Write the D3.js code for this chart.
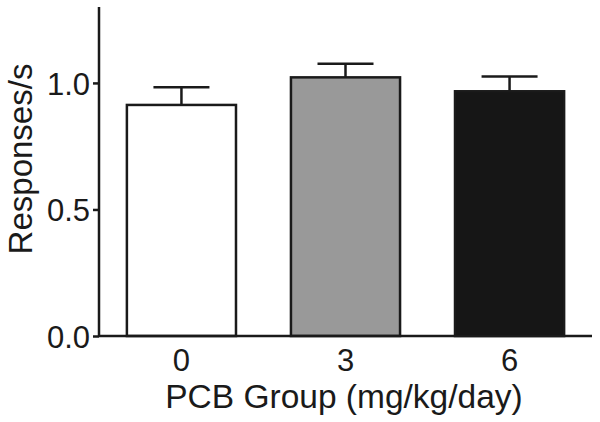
<!DOCTYPE html>
<html><head><meta charset="utf-8">
<script src="https://cdn.jsdelivr.net/npm/d3@7"></script>
<style>body{margin:0;background:#fff}svg{display:block}text{font-family:"Liberation Sans",Arial,sans-serif;fill:#1a1a1a}</style>
</head><body>
<svg id="c" width="600" height="422"></svg>
<script>
const groups = ["0", "3", "6"];
const means = [0.913, 1.022, 0.967];
const errors = [0.070, 0.054, 0.058];
const fills = ["#ffffff", "#999999", "#161616"];
const yTicks = [0.0, 0.5, 1.0];
const xTitle = "PCB Group (mg/kg/day)";
const yTitle = "Responses/s";

const svg = d3.select("#c");
const x0 = 99, x1 = 592, yb = 336, yt = 7;
const x = d3.scaleBand().domain(groups).range([x0, x1]).paddingInner(0.335).paddingOuter(0.17);
const y = d3.scaleLinear().domain([0, 1.3]).range([yb, yt]);
const ink = "#1a1a1a";
const ff = '"Liberation Sans",Arial,sans-serif';

const data = groups.map((g, i) => ({g, m: means[i], e: errors[i], f: fills[i]}));

// error bars (upper only)
const eb = svg.append("g").attr("stroke", ink).attr("stroke-width", 2.5);
eb.selectAll("line.v").data(data).join("line")
  .attr("x1", d => x(d.g) + x.bandwidth()/2).attr("x2", d => x(d.g) + x.bandwidth()/2)
  .attr("y1", d => y(d.m)).attr("y2", d => y(d.m + d.e));
eb.selectAll("line.c").data(data).join("line")
  .attr("x1", d => x(d.g) + x.bandwidth()/2 - 28).attr("x2", d => x(d.g) + x.bandwidth()/2 + 28)
  .attr("y1", d => y(d.m + d.e)).attr("y2", d => y(d.m + d.e));

// bars
svg.append("g").selectAll("rect").data(data).join("rect")
  .attr("x", d => x(d.g)).attr("width", x.bandwidth())
  .attr("y", d => y(d.m)).attr("height", d => y(0) - y(d.m))
  .attr("fill", d => d.f).attr("stroke", ink).attr("stroke-width", 2.5);

// y axis
const ya = svg.append("g").attr("transform", `translate(${x0},0)`)
  .call(d3.axisLeft(y).tickValues(yTicks).tickFormat(d3.format(".1f")).tickSize(6).tickPadding(3));
ya.select(".domain").attr("stroke", ink).attr("stroke-width", 2.5).attr("d", `M0,${yt}V${yb}`);
ya.selectAll(".tick line").attr("stroke", ink).attr("stroke-width", 2.5);
ya.selectAll(".tick text").attr("font-size", 31).attr("fill", ink).attr("dy", "0.36em")
  .style("font-family", ff);

// x axis
const xa = svg.append("g").attr("transform", `translate(0,${yb})`)
  .call(d3.axisBottom(x).tickSize(0).tickPadding(13));
xa.select(".domain").attr("stroke", ink).attr("stroke-width", 2.5).attr("d", `M${x0},0H${x1}`);
xa.selectAll(".tick text").attr("font-size", 31).attr("fill", ink).attr("dy", "0.71em")
  .style("font-family", ff);

// titles
svg.append("text").attr("x", 344).attr("y", 408).attr("text-anchor", "middle")
  .attr("font-size", 33.5).text(xTitle);
svg.append("text").attr("transform", "translate(32,159) rotate(-90)").attr("text-anchor", "middle")
  .attr("font-size", 33).text(yTitle);
</script>
</body></html>
